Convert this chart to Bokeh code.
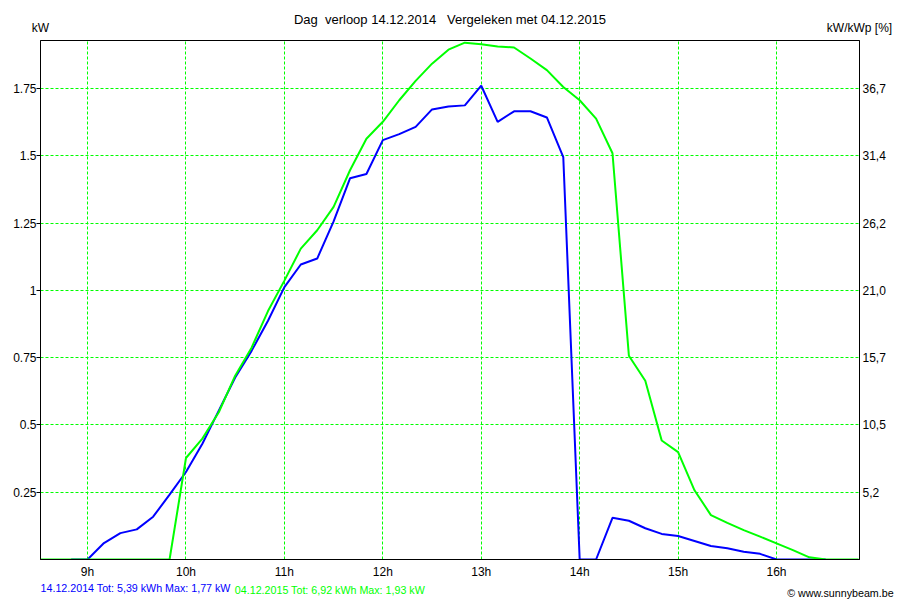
from bokeh.plotting import figure
from bokeh.models import (Range1d, LinearAxis, FixedTicker, ColumnDataSource)
from bokeh.embed import file_html
from bokeh.resources import INLINE

# ---------------- data ----------------
green_times = ["08:30", "08:40", "08:50", "09:00", "09:10", "09:20", "09:30", "09:40", "09:50",
               "10:00", "10:10", "10:20", "10:30", "10:40", "10:50",
               "11:00", "11:10", "11:20", "11:30", "11:40", "11:50",
               "12:00", "12:10", "12:20", "12:30", "12:40", "12:50",
               "13:00", "13:10", "13:20", "13:30", "13:40", "13:50",
               "14:00", "14:10", "14:20", "14:30", "14:40", "14:50",
               "15:00", "15:10", "15:20", "15:30", "15:40", "15:50",
               "16:00", "16:10", "16:20", "16:30", "16:40", "16:50"]
green_kw = [0, 0, 0, 0, 0, 0, 0, 0, 0,
            0.377, 0.449, 0.547, 0.683, 0.787, 0.923,
            1.036, 1.155, 1.223, 1.310, 1.446, 1.563,
            1.626, 1.706, 1.778, 1.842, 1.894, 1.920,
            1.914, 1.906, 1.902, 1.861, 1.818, 1.755,
            1.706, 1.638, 1.509, 0.757, 0.664, 0.442,
            0.399, 0.257, 0.165, 0.136, 0.109, 0.085,
            0.060, 0.035, 0.008, 0, 0, 0]

blue_times = ["08:50", "09:00", "09:10", "09:20", "09:30", "09:40", "09:50",
              "10:00", "10:10", "10:20", "10:30", "10:40", "10:50",
              "11:00", "11:10", "11:20", "11:30", "11:40", "11:50",
              "12:00", "12:10", "12:20", "12:30", "12:40", "12:50",
              "13:00", "13:10", "13:20", "13:30", "13:40", "13:50",
              "14:00", "14:10", "14:20", "14:30", "14:40", "14:50",
              "15:00", "15:10", "15:20", "15:30", "15:40", "15:50",
              "16:00", "16:10", "16:20", "16:30"]
blue_kw = [0, 0, 0.061, 0.098, 0.112, 0.159, 0.241,
           0.325, 0.430, 0.553, 0.676, 0.775, 0.887,
           1.012, 1.096, 1.118, 1.256, 1.416, 1.432,
           1.558, 1.580, 1.607, 1.672, 1.683, 1.687,
           1.760, 1.626, 1.665, 1.665, 1.642, 1.495,
           0, 0, 0.155, 0.144, 0.116, 0.095,
           0.087, 0.069, 0.050, 0.042, 0.029, 0.021,
           0, 0, 0, 0]

hour_ticks = [9, 10, 11, 12, 13, 14, 15, 16]
hour_labels = ["9h", "10h", "11h", "12h", "13h", "14h", "15h", "16h"]
kw_ticks = [0.25, 0.5, 0.75, 1.0, 1.25, 1.5, 1.75]
kw_labels = ["0.25", "0.5", "0.75", "1", "1.25", "1.5", "1.75"]
pct_labels = ["5,2", "10,5", "15,7", "21,0", "26,2", "31,4", "36,7"]

title_text = "Dag \u00a0verloop 14.12.2014 \u00a0 Vergeleken met 04.12.2015"
left_unit = "kW"
right_unit = "kW/kWp [%]"
blue_legend = "14.12.2014 Tot: 5,39 kWh Max: 1,77 kW"
green_legend = "04.12.2015 Tot: 6,92 kWh Max: 1,93 kW"
credit_text = "\u00a9 www.sunnybeam.be"

BLUE = "#0000ff"
GREEN = "#00ff00"
FONT = "Liberation Sans"


def to_hours(t):
    h, m = t.split(":")
    return int(h) + int(m) / 60.0


X0, X1 = 8.522, 16.843
Y0, Y1 = 0.0, 1.928
PX_PER_H = 819.0 / (X1 - X0)


def px_to_x(px):
    # horizontal page pixel -> hour value (for placing footer text centres)
    return X0 + (px - 40.3) / PX_PER_H


p = figure(frame_width=819, frame_height=519,
           min_border_left=40, min_border_right=41,
           min_border_top=40, min_border_bottom=41,
           x_range=Range1d(X0, X1), y_range=Range1d(Y0, Y1),
           output_backend="svg", toolbar_location=None,
           background_fill_color="white", border_fill_color="white")

p.outline_line_color = "black"
p.outline_line_width = 1
p.outline_line_alpha = 1.0

# grid
p.xgrid.ticker = FixedTicker(ticks=hour_ticks)
p.ygrid.ticker = FixedTicker(ticks=kw_ticks)
for g in (p.xgrid, p.ygrid):
    g.grid_line_color = GREEN
    g.grid_line_dash = "3 2"
    g.grid_line_width = 1


def plain(ax, size="12px", color="black"):
    ax.major_tick_out = 0
    ax.major_tick_in = 0
    ax.minor_tick_out = 0
    ax.minor_tick_in = 0
    ax.major_label_text_font = FONT
    ax.major_label_text_font_size = size
    ax.major_label_text_color = color


# x axis
xa = p.xaxis[0]
xa.ticker = FixedTicker(ticks=hour_ticks)
xa.major_label_overrides = {t: l for t, l in zip(hour_ticks, hour_labels)}
plain(xa)
xa.major_label_standoff = 5
xa.axis_line_color = "black"

# left axis
ya = p.yaxis[0]
ya.ticker = FixedTicker(ticks=kw_ticks)
ya.major_label_overrides = {t: l for t, l in zip(kw_ticks, kw_labels)}
plain(ya)
ya.major_tick_out = 4
ya.major_tick_line_color = "black"
ya.major_label_standoff = 0
ya.axis_line_color = "black"

# right axis
ra = LinearAxis(ticker=FixedTicker(ticks=kw_ticks))
ra.major_label_overrides = {t: l for t, l in zip(kw_ticks, pct_labels)}
plain(ra)
ra.major_label_standoff = 3
ra.axis_line_color = "black"
p.add_layout(ra, "right")

# top "axis" carrying the unit labels and the title
ta = LinearAxis(ticker=FixedTicker(ticks=[X0, X1]))
ta.major_label_overrides = {X0: left_unit, X1: right_unit}
plain(ta)
ta.major_label_standoff = 6
ta.axis_line_color = None
ta.axis_label = title_text
ta.axis_label_text_font = FONT
ta.axis_label_text_font_size = "13px"
ta.axis_label_text_font_style = "normal"
ta.axis_label_text_color = "black"
ta.axis_label_standoff = -9
p.add_layout(ta, "above")

# footer rows (three colours -> three axes, pulled onto one line)
foot = [(blue_legend, 135.4, BLUE, 0),
        (green_legend, 329.7, GREEN, -13),
        (credit_text, 840.2, "black", -12)]
for txt, cx, col, so in foot:
    t = px_to_x(cx)
    fa = LinearAxis(ticker=FixedTicker(ticks=[t]))
    fa.major_label_overrides = {t: txt}
    plain(fa, size="10.7px", color=col)
    fa.major_label_standoff = so
    fa.axis_line_color = None
    p.add_layout(fa, "below")

# series
blue_src = ColumnDataSource(dict(x=[to_hours(t) for t in blue_times], y=blue_kw))
green_src = ColumnDataSource(dict(x=[to_hours(t) for t in green_times], y=green_kw))
p.line("x", "y", source=blue_src, line_color=BLUE, line_width=2)
p.line("x", "y", source=green_src, line_color=GREEN, line_width=2)

open("out.html", "w").write(file_html(p, INLINE))
